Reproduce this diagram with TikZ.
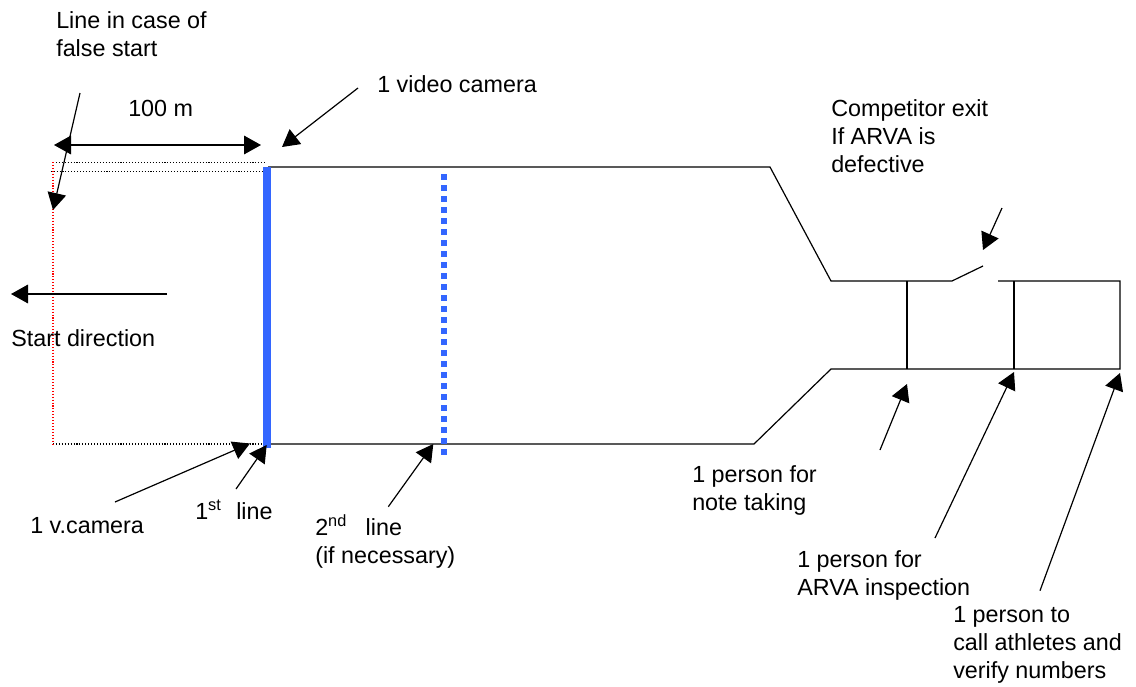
\documentclass[tikz,border=0pt]{standalone}
\usepackage{fontspec}
\setmainfont{Liberation Sans}
\usetikzlibrary{arrows.meta}
\definecolor{lineblue}{RGB}{51,102,255}
\begin{document}
\begin{tikzpicture}[x=0.75pt,y=-0.75pt,
  lbl/.style={anchor=base west,inner sep=0pt,align=left,font=\fontsize{17.5}{21}\selectfont},
  arr/.style={line width=0.9pt,-{Triangle[length=12.75pt,width=14pt]}},
  dblarr/.style={line width=0.9pt,{Triangle[length=12.75pt,width=14pt]}-{Triangle[length=12.75pt,width=14pt]}},
  outline/.style={line width=0.9pt,line join=miter},
  dotline/.style={line width=0.8pt,dash pattern=on 0.8pt off 1.4pt},
  firstline/.style={lineblue,line width=5.5pt},
  secondline/.style={lineblue,line width=4.5pt,dash pattern=on 4.5pt off 3.75pt}
]
\useasboundingbox (0,0) rectangle (1136,686);

% dotted start area
\draw[dotline] (53,162.7) -- (267,162.7);
\draw[dotline] (50.7,171.7) -- (263,171.7);
\draw[dotline] (53,444) -- (265,444);
\draw[dotline,red] (53,162) -- (53,444);

% course outline
\draw[outline] (268,167) -- (770,167) -- (831,281) -- (952,281) -- (983,266);
\draw[outline] (998,281) -- (1120,281) -- (1120,369) -- (831,369) -- (754,444) -- (268,444);
\draw[outline] (907,281) -- (907,369);
\draw[outline] (1014,281) -- (1014,369);

% start lines
\draw[firstline] (267,166.7) -- (267,448.3);
\draw[secondline] (444,174) -- (444,456);

% labels (base anchor = baseline of the last line)
\node[lbl] (falsestart) at (56,56) {Line in case of\\false start};
\node[lbl] (hundred) at (128,116) {100 m};
\node[lbl] (videocam) at (377,92) {1 video camera};
\node[lbl] (exitlbl) at (831,172) {Competitor exit\\If ARVA is\\defective};
\node[lbl] (startdir) at (11,346) {Start direction};
\node[lbl] (vcam) at (30,533) {1 v.camera};
\node[lbl] (firstlbl) at (195,519) {1\textsuperscript{st}\hspace{11pt}line};
\node[lbl] (secondlbl) at (315,563) {2\textsuperscript{nd}\hspace{14pt}line\\(if necessary)};
\node[lbl] (notelbl) at (692,510) {1 person for\\note taking};
\node[lbl] (arvalbl) at (797,595) {1 person for\\ARVA inspection};
\node[lbl] (calllbl) at (953,678) {1 person to\\call athletes and\\verify numbers};

% connector end points
\coordinate (dA) at (54,145);
\coordinate (dB) at (261,145);
\coordinate (fsA) at (80,93);
\coordinate (fsB) at (53,210);
\coordinate (vcA) at (358,88);
\coordinate (vcB) at (282,147);
\coordinate (sdA) at (167,294);
\coordinate (sdB) at (11,294);
\coordinate (vA) at (115,502);
\coordinate (vB) at (250,443.5);
\coordinate (flA) at (236,489);
\coordinate (flB) at (266.7,445);
\coordinate (slA) at (388.3,506.7);
\coordinate (slB) at (433.3,444);
\coordinate (exA) at (1002,208);
\coordinate (exB) at (983,250);
\coordinate (ntA) at (880,450);
\coordinate (ntB) at (907,384);
\coordinate (arA) at (935,538);
\coordinate (arB) at (1014,372);
\coordinate (caA) at (1040,590.7);
\coordinate (caB) at (1120,373);

% connectors
\draw[dblarr] (dA) -- (dB);
\draw[arr] (fsA) -- (fsB);
\draw[arr] (vcA) -- (vcB);
\draw[arr] (sdA) -- (sdB);
\draw[arr] (vA) -- (vB);
\draw[arr] (flA) -- (flB);
\draw[arr] (slA) -- (slB);
\draw[arr] (exA) -- (exB);
\draw[arr] (ntA) -- (ntB);
\draw[arr] (arA) -- (arB);
\draw[arr] (caA) -- (caB);
\end{tikzpicture}
\end{document}
